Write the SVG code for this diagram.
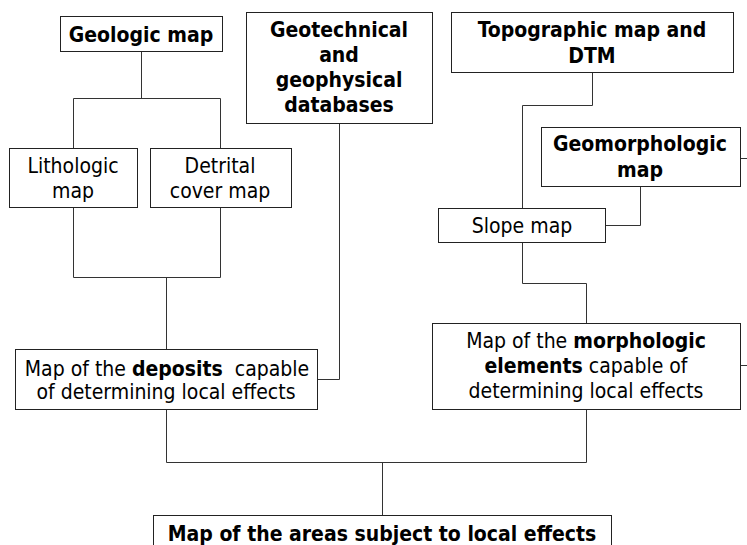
<svg xmlns="http://www.w3.org/2000/svg" width="747" height="545" viewBox="0 0 747 545">
<style>
rect{fill:#fff;stroke:#222;stroke-width:1}
#connectors path{fill:none;stroke:#333;stroke-width:1}
text{font-family:"DejaVu Sans Condensed","DejaVu Sans",sans-serif;font-size:21px;fill:#000;text-anchor:middle;white-space:pre}
.b{font-weight:bold}
</style>
<rect x="0" y="0" width="747" height="545" style="stroke:none"/>
<g id="connectors">
<path d="M141.5 51.5V98.5M73.5 148.5V98.5H220.5V148.5"/>
<path d="M73.5 207.5V277.5H220.5V207.5M166.5 277.5V349.5"/>
<path d="M339.5 123.5V379.5H317.5"/>
<path d="M592.5 72.5V105.5H522.5V208.5"/>
<path d="M740.5 158.5H747"/>
<path d="M640.5 186.5V225.5H605.5"/>
<path d="M522.5 242.5V283.5H586.5V323.5"/>
<path d="M740.5 365.5H747"/>
<path d="M166.5 409.5V462.5H586.5V409.5M382.5 462.5V515.5"/>
</g>
<g id="geologic"><rect x="60.5" y="16.5" width="162" height="35"/><text class="b" x="141" y="42">Geologic map</text></g>
<g id="geotech"><rect x="246.5" y="12.5" width="186" height="111"/>
<text class="b" x="339" y="37">Geotechnical</text><text class="b" x="339" y="62">and</text><text class="b" x="339" y="87">geophysical</text><text class="b" x="339" y="112">databases</text></g>
<g id="topo"><rect x="451.5" y="12.5" width="282" height="60"/>
<text class="b" x="592" y="37">Topographic map and</text><text class="b" x="592" y="63">DTM</text></g>
<g id="geomorph"><rect x="541.5" y="127.5" width="199" height="59"/>
<text class="b" x="640" y="151">Geomorphologic</text><text class="b" x="640" y="177">map</text></g>
<g id="litho"><rect x="9.5" y="148.5" width="128" height="59"/>
<text x="73" y="173">Lithologic</text><text x="73" y="198">map</text></g>
<g id="detrital"><rect x="150.5" y="148.5" width="141" height="59"/>
<text x="220" y="173">Detrital</text><text x="220" y="198">cover map</text></g>
<g id="slope"><rect x="438.5" y="208.5" width="167" height="34"/>
<text x="522" y="233">Slope map</text></g>
<g id="deposits"><rect x="15.5" y="349.5" width="302" height="60"/>
<text x="167" y="376">Map of the <tspan class="b">deposits</tspan>  capable</text><text x="166" y="399">of determining local effects</text></g>
<g id="morpho"><rect x="432.5" y="323.5" width="308" height="86"/>
<text x="586" y="348">Map of the <tspan class="b">morphologic</tspan></text><text x="586" y="373"><tspan class="b">elements</tspan> capable of</text><text x="586" y="398">determining local effects</text></g>
<g id="areas"><rect x="153.5" y="515.5" width="458" height="50"/>
<text class="b" x="382" y="541">Map of the areas subject to local effects</text></g>
</svg>
